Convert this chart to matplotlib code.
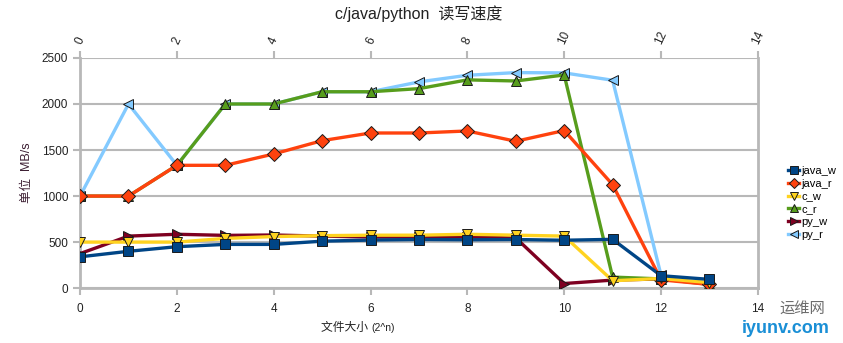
import matplotlib.pyplot as plt
import numpy as np

plt.rcParams['font.family'] = ['Liberation Sans', 'Noto Sans CJK SC', 'DejaVu Sans']

# file size exponent (2^n)
n = [0, 1, 2, 3, 4, 5, 6, 7, 8, 9, 10, 11, 12, 13]

# speeds in MB/s
java_w = [340, 400, 450, 475, 475, 510, 522, 528, 525, 528, 520, 530, 135, 95]
java_r = [1000, 1000, 1334, 1334, 1457, 1602, 1685, 1685, 1707, 1595, 1712, 1124, 90, 40]
c_w = [500, 500, 500, 540, 560, 570, 575, 575, 585, 575, 565, 80, 105, 60]
c_r = [1000, 1000, 1334, 2000, 2000, 2133, 2133, 2167, 2262, 2250, 2315, 120, 100, 40]
py_w = [375, 565, 585, 573, 577, 565, 555, 555, 555, 545, 50, 87, 100]
py_r = [1000, 2000, 1334, 2000, 2000, 2133, 2133, 2240, 2312, 2341, 2338, 2258, 140]

series = [
    ('java_w', java_w, '#004586', 's', 6),
    ('java_r', java_r, '#ff420e', 'D', 5),
    ('c_w', c_w, '#ffd320', 'v', 5),
    ('c_r', c_r, '#579d1c', '^', 4),
    ('py_w', py_w, '#7e0021', '>', 3),
    ('py_r', py_r, '#83caff', '<', 2),
]

fig = plt.figure(figsize=(8.43, 3.43), dpi=100)
ax = fig.add_axes([0.095, 0.160, 0.804, 0.671])

for name, vals, col, mk, z in series:
    ax.plot(n[:len(vals)], vals, color=col, lw=2.4, marker=mk, ms=7.5,
            mfc=col, mec='#1a1a1a', mew=0.7, label=name, zorder=z)

grid_col = '#b8b8b8'
ax.set_xlim(0, 14)
ax.set_ylim(0, 2500)
ax.set_yticks(np.arange(0, 2501, 500))
ax.set_xticks(np.arange(0, 15, 2))
ax.yaxis.grid(True, color=grid_col, lw=1.5, zorder=0)
ax.set_axisbelow(True)
for s in ['left', 'bottom', 'right']:
    ax.spines[s].set_color(grid_col)
    ax.spines[s].set_linewidth(2)
ax.spines['top'].set_visible(False)
ax.tick_params(colors=grid_col, width=1.5, length=5, labelcolor='#222222', labelsize=8.5)
ax.tick_params(axis='x', pad=6)

top = ax.secondary_xaxis('top')
top.set_xticks(np.arange(0, 15, 2))
top.spines['top'].set_visible(False)
top.tick_params(colors=grid_col, width=1.5, length=5, labelcolor='#222222', labelsize=8.5,
                labelrotation=65)

ax.set_title('c/java/python  读写速度', fontsize=11.5, color='#222222', pad=28)
ax.set_ylabel('单位  MB/s', fontsize=9, color='#3d1f33', labelpad=6)
fig.text(0.44, 0.035, '文件大小 ', fontsize=8.5, color='#222222', ha='right')
fig.text(0.44, 0.035, '(2^n)', fontsize=7.5, color='#222222', ha='left')

leg = ax.legend(loc='center left', bbox_to_anchor=(1.03, 0.37), frameon=False,
                fontsize=8, handlelength=1.0, handletextpad=0.2, labelspacing=0.25,
                markerscale=0.7)

# watermark
fig.text(0.925, 0.085, '运维网', fontsize=11, color='#6d6d6d', ha='left')
fig.text(0.88, 0.03, 'iyunv.com', fontsize=13, color='#1a8fd6', ha='left', fontweight='bold')

fig.savefig('out.png', dpi=100)
